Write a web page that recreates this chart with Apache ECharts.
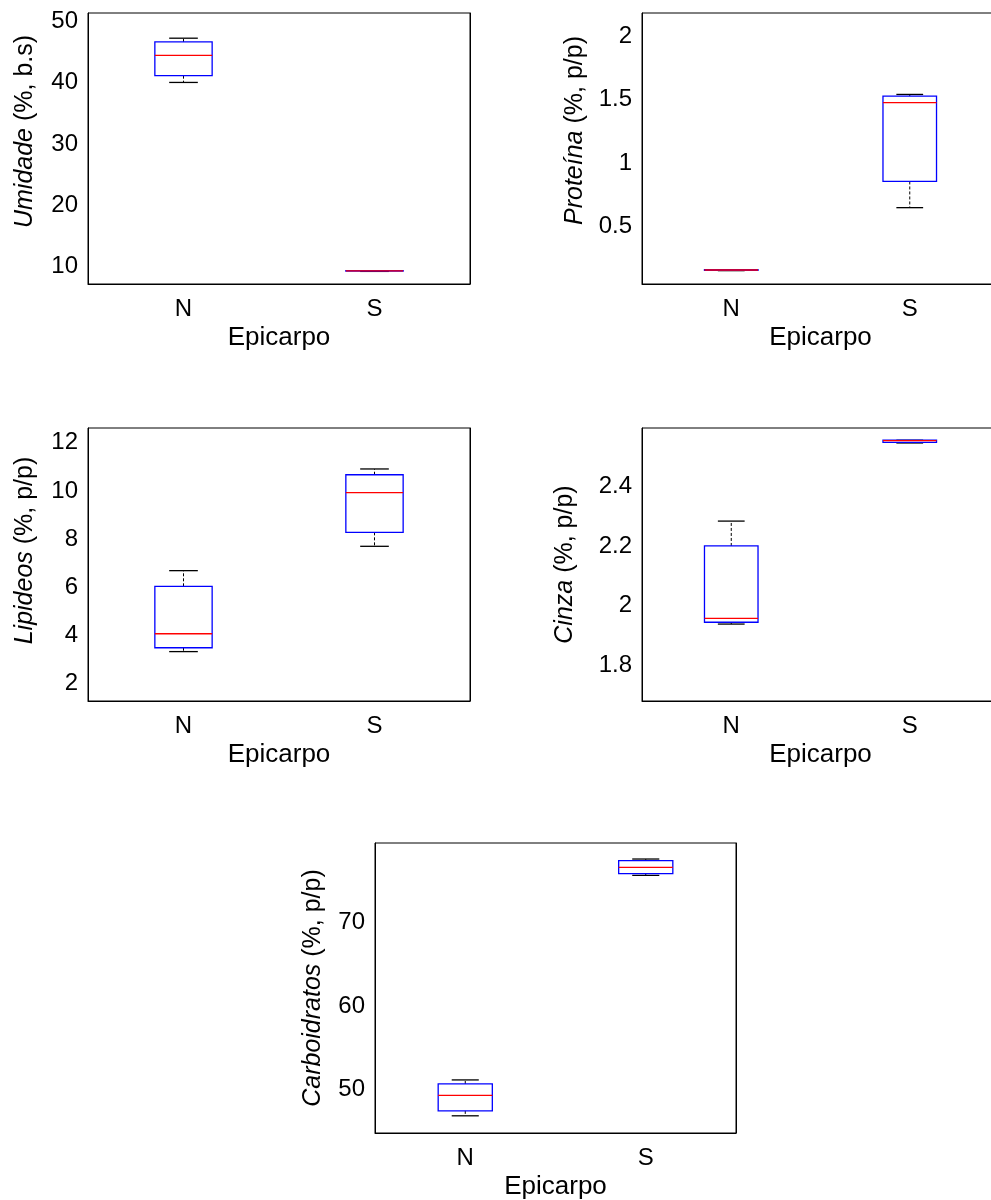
<!DOCTYPE html>
<html>
<head>
<meta charset="utf-8">
<script src="https://cdn.jsdelivr.net/npm/echarts@6/dist/echarts.min.js"></script>
<style>
  html, body { margin: 0; padding: 0; background: #fff; }
  #container { width: 991px; height: 1200px; }
</style>
</head>
<body>
<div id="container"></div>
<script>
// categories on every x axis
var grupos = ['N', 'S'];

// box stats per group: [min, q1, median, q3, max]
var umidadeN = [40.0, 41.1, 44.4, 46.6, 47.2];
var umidadeS = [9.25, 9.30, 9.32, 9.37, 9.37];
var proteinaN = [0.155, 0.158, 0.160, 0.162, 0.163];
var proteinaS = [0.65, 0.856, 1.476, 1.527, 1.54];
var lipideosN = [3.33, 3.49, 4.07, 6.04, 6.69];
var lipideosS = [7.70, 8.28, 9.93, 10.67, 10.91];
var cinzaN = [1.939, 1.945, 1.958, 2.20, 2.283];
var cinzaS = [2.544, 2.546, 2.552, 2.553, 2.553];
var carboN = [46.86, 47.45, 49.32, 50.68, 51.16];
var carboS = [75.67, 75.87, 76.62, 77.43, 77.63];

// y tick labels
var ticksUmidade = [10, 20, 30, 40, 50];
var ticksProteina = [0.5, 1, 1.5, 2];
var ticksLipideos = [2, 4, 6, 8, 10, 12];
var ticksCinza = [1.8, 2, 2.2, 2.4];
var ticksCarbo = [50, 60, 70];

var fonte = 'Liberation Sans, Arial, sans-serif';

var paineis = [
    {grid: {left: 88, top: 13, width: 382, height: 271}, min: 7.2, max: 51.3, ticks: ticksUmidade,
     nome: '{i|Umidade} (%, b.s)', gap: 50, desloc: 34, dados: [umidadeN, umidadeS]},
    {grid: {left: 642, top: 13, width: 357, height: 271}, min: 0.05, max: 2.18, ticks: ticksProteina,
     nome: '{i|Proteína} (%, p/p)', gap: 54, desloc: 36, dados: [proteinaN, proteinaS]},
    {grid: {left: 88, top: 428, width: 382, height: 273}, min: 1.28, max: 12.61, ticks: ticksLipideos,
     nome: '{i|Lipideos} (%, p/p)', gap: 50, desloc: 28, dados: [lipideosN, lipideosS]},
    {grid: {left: 642, top: 428, width: 357, height: 273}, min: 1.682, max: 2.594, ticks: ticksCinza,
     nome: '{i|Cinza} (%, p/p)', gap: 64, desloc: 0, dados: [cinzaN, cinzaS]},
    {grid: {left: 375, top: 843, width: 361, height: 290}, min: 44.8, max: 79.55, ticks: ticksCarbo,
     nome: '{i|Carboidratos} (%, p/p)', gap: 49, desloc: 0, dados: [carboN, carboS]}
];

function renderBox(params, api) {
    var x = api.value(0);
    var lo = api.coord([x, api.value(1)]);
    var q1 = api.coord([x, api.value(2)]);
    var md = api.coord([x, api.value(3)]);
    var q3 = api.coord([x, api.value(4)]);
    var hi = api.coord([x, api.value(5)]);
    var band = api.size([1, 0])[0];
    var bw = band * 0.30 / 2;
    var cw = band * 0.15 / 2;
    var cx = lo[0];
    var whisker = {stroke: '#000', lineWidth: 1, lineDash: [3, 2]};
    var cap = {stroke: '#000', lineWidth: 1.3};
    return {
        type: 'group',
        children: [
            {type: 'line', shape: {x1: cx, y1: q3[1], x2: cx, y2: hi[1]}, style: whisker},
            {type: 'line', shape: {x1: cx, y1: q1[1], x2: cx, y2: lo[1]}, style: whisker},
            {type: 'line', shape: {x1: cx - cw, y1: hi[1], x2: cx + cw, y2: hi[1]}, style: cap},
            {type: 'line', shape: {x1: cx - cw, y1: lo[1], x2: cx + cw, y2: lo[1]}, style: cap},
            {type: 'rect', shape: {x: cx - bw, y: q3[1], width: bw * 2, height: q1[1] - q3[1]},
             style: {stroke: '#0000ff', lineWidth: 1.3, fill: null}},
            {type: 'line', shape: {x1: cx - bw, y1: md[1], x2: cx + bw, y2: md[1]},
             style: {stroke: '#ff0000', lineWidth: 1.3}}
        ]
    };
}

var option = {
    animation: false,
    textStyle: {fontFamily: fonte},
    grid: [],
    xAxis: [],
    yAxis: [],
    series: []
};

paineis.forEach(function (p, i) {
    var g = p.grid;
    option.grid.push({
        left: g.left, top: g.top, width: g.width, height: g.height,
        show: true, borderColor: '#000', borderWidth: 1,
        outerBoundsMode: 'none', containLabel: false
    });
    option.xAxis.push({
        type: 'category', gridIndex: i, data: grupos,
        name: 'Epicarpo', nameLocation: 'middle', nameGap: 41,
        nameTextStyle: {fontSize: 26, color: '#000', fontFamily: fonte},
        axisLine: {lineStyle: {color: '#000'}},
        axisTick: {show: false},
        axisLabel: {fontSize: 24, color: '#000', margin: 13, fontFamily: fonte},
        splitLine: {show: false}
    });
    option.yAxis.push({
        type: 'value', gridIndex: i, min: p.min, max: p.max,
        name: p.nome, nameLocation: 'middle', nameGap: p.gap, nameRotate: 90,
        nameTextStyle: {
            fontSize: 25, color: '#000', fontFamily: fonte,
            padding: [0, 0, 0, p.desloc],
            rich: {i: {fontStyle: 'italic', fontSize: 25, color: '#000', fontFamily: fonte}}
        },
        axisLine: {show: true, lineStyle: {color: '#000'}},
        axisTick: {inside: true, length: 4, customValues: p.ticks, lineStyle: {color: '#000'}},
        axisLabel: {fontSize: 24, color: '#000', margin: 10, customValues: p.ticks, fontFamily: fonte},
        splitLine: {show: false}
    });
    option.yAxis.push({
        type: 'value', gridIndex: i, min: p.min, max: p.max, position: 'right',
        axisLine: {show: true, lineStyle: {color: '#000'}},
        axisTick: {inside: true, length: 4, customValues: p.ticks, lineStyle: {color: '#000'}},
        axisLabel: {show: false},
        splitLine: {show: false}
    });
    option.series.push({
        type: 'custom',
        xAxisIndex: i,
        yAxisIndex: i * 2,
        renderItem: renderBox,
        encode: {x: 0, y: [1, 2, 3, 4, 5]},
        data: p.dados.map(function (d, k) {
            return [k].concat(d);
        })
    });
});

var myChart = echarts.init(document.getElementById('container'));
myChart.setOption(option);
</script>
</body>
</html>
